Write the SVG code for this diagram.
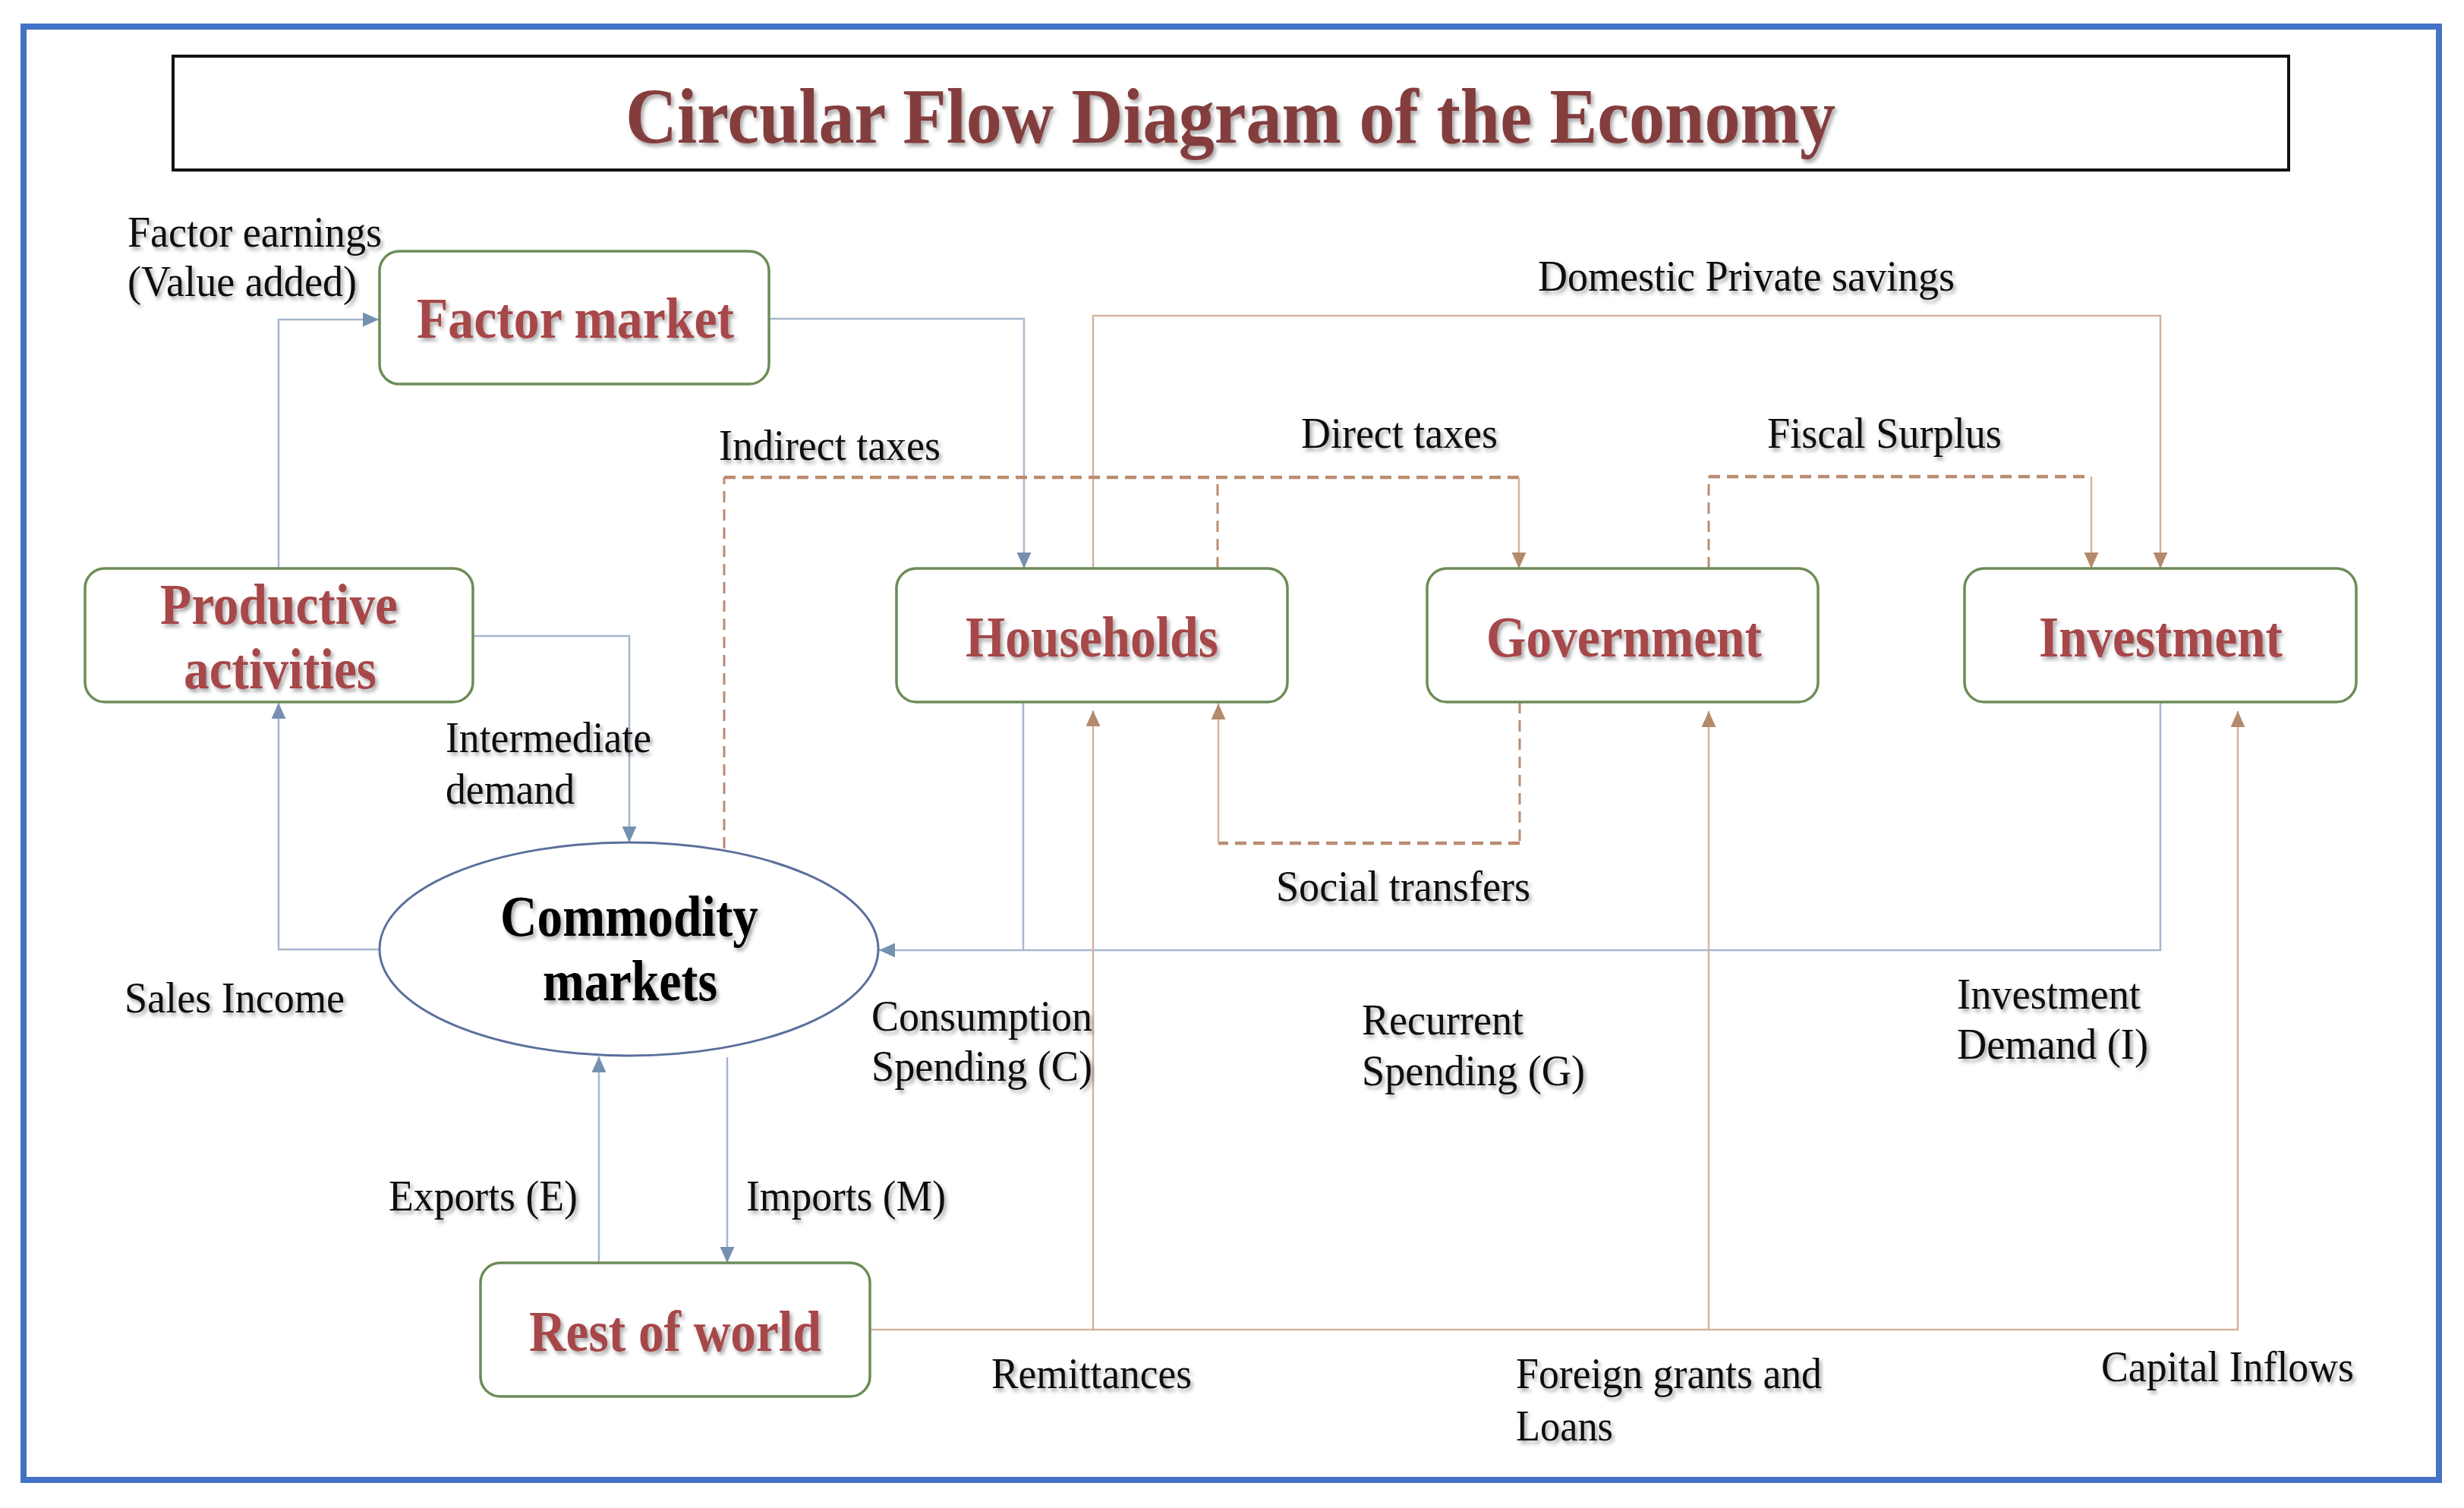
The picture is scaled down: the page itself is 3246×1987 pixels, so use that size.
<svg xmlns="http://www.w3.org/2000/svg" width="3246" height="1987" viewBox="0 0 3246 1987">
<style>
.node{fill:#ffffff;stroke:#6D8C57;stroke-width:3.5}
.nt{font-family:"Liberation Serif","Times New Roman",serif;font-weight:bold;font-size:77px;fill:#A64648;filter:url(#sh)}
.lb{font-family:"Liberation Serif","Times New Roman",serif;font-size:58px;fill:#111111;filter:url(#sh)}
.b{fill:none;stroke:#A6B7CD;stroke-width:2.5}
.r{fill:none;stroke:#D3B3A0;stroke-width:2.5}
.dh{fill:none;stroke:#BA8C70;stroke-width:4.5;stroke-dasharray:15 9}
.dv{fill:none;stroke:#BA8C70;stroke-width:3;stroke-dasharray:15 9}
</style>
<defs>
<filter id="sh" x="-5%" y="-20%" width="110%" height="150%">
<feDropShadow dx="3" dy="4" stdDeviation="2.5" flood-color="#000000" flood-opacity="0.35"/>
</filter>
<marker id="ab" viewBox="0 0 20 18" refX="20" refY="9" markerWidth="21" markerHeight="19" markerUnits="userSpaceOnUse" orient="auto">
<path d="M0,0 L20,9 L0,18 z" fill="#7690B0"/>
</marker>
<marker id="ar" viewBox="0 0 20 18" refX="20" refY="9" markerWidth="21" markerHeight="19" markerUnits="userSpaceOnUse" orient="auto">
<path d="M0,0 L20,9 L0,18 z" fill="#B58A6C"/>
</marker>
</defs>
<rect x="0" y="0" width="3246" height="1987" fill="#ffffff"/>
<rect id="frame" x="31" y="35" width="3182" height="1915" fill="none" stroke="#4472C4" stroke-width="8"/>
<g id="title">
<rect x="228" y="74" width="2787" height="150" fill="#ffffff" stroke="#111111" stroke-width="4"/>
<text x="824" y="188" textLength="1594" lengthAdjust="spacingAndGlyphs" style="font-family:'Liberation Serif','Times New Roman',serif;font-weight:bold;font-size:104px;fill:#843C3C;filter:url(#sh)">Circular Flow Diagram of the Economy</text>
</g>
<g id="connectors">
<path class="b" d="M367,749 V421 H499" marker-end="url(#ab)"/>
<path class="b" d="M1013,420 H1349 V749" marker-end="url(#ab)"/>
<path class="b" d="M623,838 H829 V1110" marker-end="url(#ab)"/>
<path class="b" d="M500,1251 H367 V926" marker-end="url(#ab)"/>
<path class="b" d="M2846,925 V1252 H1158" marker-end="url(#ab)"/>
<path class="b" d="M1348,925 V1252"/>
<path class="b" d="M958,1393 V1664" marker-end="url(#ab)"/>
<path class="b" d="M789,1664 V1392" marker-end="url(#ab)"/>
<path class="r" d="M1440,749 V416 H2846 V749" marker-end="url(#ar)"/>
<path class="r" d="M1146,1752 H2948 V937" marker-end="url(#ar)"/>
<path class="r" d="M1440,1752 V936" marker-end="url(#ar)"/>
<path class="r" d="M2251,1752 V937" marker-end="url(#ar)"/>
<path class="dv" d="M954,1118 V629"/>
<path class="dh" d="M954,629 H2001"/>
<path class="dv" d="M1604,749 V629"/>
<path class="r" d="M2001,629 V749" marker-end="url(#ar)"/>
<path class="dv" d="M2251,749 V628"/>
<path class="dh" d="M2251,628 H2755"/>
<path class="r" d="M2755,628 V749" marker-end="url(#ar)"/>
<path class="dv" d="M2002,925 V1111"/>
<path class="dh" d="M2002,1111 H1605"/>
<path class="r" d="M1605,1111 V927" marker-end="url(#ar)"/>
</g>
<g id="factor-market">
<rect class="node" x="500" y="331" width="513" height="175" rx="26"/>
<text class="nt" x="549" y="445" textLength="418" lengthAdjust="spacingAndGlyphs">Factor market</text>
</g>
<g id="productive-activities">
<rect class="node" x="112" y="749" width="511" height="176" rx="26"/>
<text class="nt" x="211" y="822" textLength="313" lengthAdjust="spacingAndGlyphs">Productive</text>
<text class="nt" x="242" y="907" textLength="254" lengthAdjust="spacingAndGlyphs">activities</text>
</g>
<g id="households">
<rect class="node" x="1181" y="749" width="515" height="176" rx="26"/>
<text class="nt" x="1272" y="865" textLength="333" lengthAdjust="spacingAndGlyphs">Households</text>
</g>
<g id="government">
<rect class="node" x="1880" y="749" width="515" height="176" rx="26"/>
<text class="nt" x="1958" y="865" textLength="363" lengthAdjust="spacingAndGlyphs">Government</text>
</g>
<g id="investment">
<rect class="node" x="2588" y="749" width="516" height="176" rx="26"/>
<text class="nt" x="2686" y="865" textLength="321" lengthAdjust="spacingAndGlyphs">Investment</text>
</g>
<g id="rest-of-world">
<rect class="node" x="633" y="1664" width="513" height="176" rx="26"/>
<text class="nt" x="697" y="1780" textLength="385" lengthAdjust="spacingAndGlyphs">Rest of world</text>
</g>
<g id="commodity-markets">
<ellipse cx="828.5" cy="1250.5" rx="328.5" ry="140.5" fill="#ffffff" stroke="#5B6F9C" stroke-width="3"/>
<text class="nt" x="659" y="1233" textLength="340" lengthAdjust="spacingAndGlyphs" style="fill:#000000">Commodity</text>
<text class="nt" x="715" y="1318" textLength="230" lengthAdjust="spacingAndGlyphs" style="fill:#000000">markets</text>
</g>
<g id="labels">
<text class="lb" x="168" y="325" textLength="335" lengthAdjust="spacingAndGlyphs">Factor earnings</text>
<text class="lb" x="168" y="390" textLength="302" lengthAdjust="spacingAndGlyphs">(Value added)</text>
<text class="lb" x="2026" y="383" textLength="549" lengthAdjust="spacingAndGlyphs">Domestic Private savings</text>
<text class="lb" x="947" y="606" textLength="292" lengthAdjust="spacingAndGlyphs">Indirect taxes</text>
<text class="lb" x="1714" y="590" textLength="259" lengthAdjust="spacingAndGlyphs">Direct taxes</text>
<text class="lb" x="2328" y="590" textLength="309" lengthAdjust="spacingAndGlyphs">Fiscal Surplus</text>
<text class="lb" x="587" y="991" textLength="271" lengthAdjust="spacingAndGlyphs">Intermediate</text>
<text class="lb" x="587" y="1059" textLength="170" lengthAdjust="spacingAndGlyphs">demand</text>
<text class="lb" x="164" y="1334" textLength="290" lengthAdjust="spacingAndGlyphs">Sales Income</text>
<text class="lb" x="1148" y="1358" textLength="291" lengthAdjust="spacingAndGlyphs">Consumption</text>
<text class="lb" x="1148" y="1424" textLength="291" lengthAdjust="spacingAndGlyphs">Spending (C)</text>
<text class="lb" x="512" y="1595" textLength="249" lengthAdjust="spacingAndGlyphs">Exports (E)</text>
<text class="lb" x="983" y="1595" textLength="263" lengthAdjust="spacingAndGlyphs">Imports (M)</text>
<text class="lb" x="1681" y="1187" textLength="335" lengthAdjust="spacingAndGlyphs">Social transfers</text>
<text class="lb" x="1794" y="1363" textLength="213" lengthAdjust="spacingAndGlyphs">Recurrent</text>
<text class="lb" x="1794" y="1430" textLength="294" lengthAdjust="spacingAndGlyphs">Spending (G)</text>
<text class="lb" x="2578" y="1329" textLength="242" lengthAdjust="spacingAndGlyphs">Investment</text>
<text class="lb" x="2578" y="1395" textLength="252" lengthAdjust="spacingAndGlyphs">Demand (I)</text>
<text class="lb" x="1306" y="1829" textLength="264" lengthAdjust="spacingAndGlyphs">Remittances</text>
<text class="lb" x="1997" y="1829" textLength="403" lengthAdjust="spacingAndGlyphs">Foreign grants and</text>
<text class="lb" x="1997" y="1898" textLength="128" lengthAdjust="spacingAndGlyphs">Loans</text>
<text class="lb" x="2768" y="1820" textLength="333" lengthAdjust="spacingAndGlyphs">Capital Inflows</text>
</g>
</svg>
